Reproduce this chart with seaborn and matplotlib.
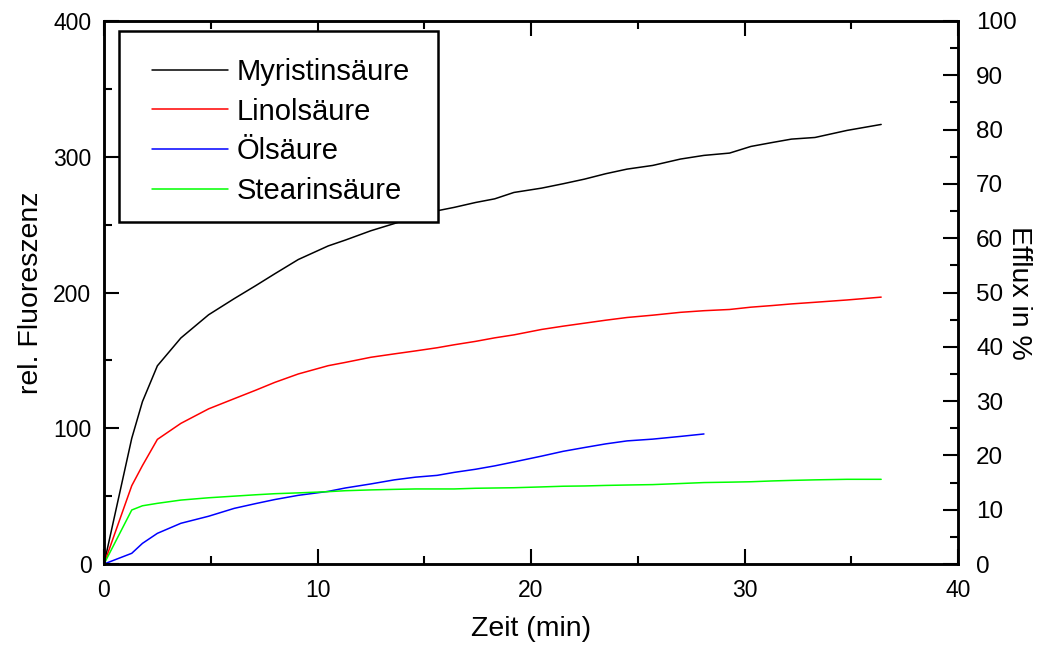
import matplotlib
matplotlib.use("Agg")
import matplotlib.pyplot as plt
from matplotlib.ticker import MultipleLocator
from matplotlib.patches import Rectangle
import pandas as pd
import seaborn as sns

sns.set_style("ticks")
plt.rcParams['font.family'] = ['Liberation Sans', 'DejaVu Sans']
plt.rcParams['text.color'] = 'black'
plt.rcParams['axes.labelcolor'] = 'black'
plt.rcParams['xtick.color'] = 'black'
plt.rcParams['ytick.color'] = 'black'
plt.rcParams['axes.edgecolor'] = 'black'

# Sampling times (min)
zeit = [0, 1.3, 1.8, 2.5, 3.6, 4.9, 6.1, 7.1, 8.0, 9.1, 10.5, 11.3, 12.5, 13.6,
        14.6, 15.6, 16.4, 17.4, 18.3, 19.2, 20.5, 21.5, 22.5, 23.5, 24.5, 25.7,
        27.0, 28.1, 29.3, 30.3, 31.3, 32.2, 33.3, 34.8, 36.4]

# Relative fluorescence per fatty acid
myristinsaeure = [0, 92.6, 119.6, 146, 166.5, 183.6, 195.5, 205, 213.8, 224.3,
                  234.3, 238.6, 245.5, 250.8, 256, 260.2, 262.7, 266.3, 269,
                  273.7, 276.9, 280.1, 283.5, 287.5, 290.9, 293.6, 298.3, 301,
                  302.7, 307.6, 310.5, 313, 314.2, 319.4, 323.8]
linolsaeure = [0, 57.7, 72.5, 91.8, 103.6, 114.3, 121.8, 128, 133.8, 140, 146.1,
               148.5, 152.3, 154.8, 157, 159.3, 161.5, 164, 166.6, 168.8, 172.8,
               175.2, 177.4, 179.6, 181.6, 183.3, 185.4, 186.6, 187.5, 189.2,
               190.4, 191.6, 192.8, 194.5, 196.6]
oelsaeure = [0, 7.9, 15.2, 22.6, 30, 35.2, 41, 44.5, 47.5, 50.6, 53.5, 56, 59,
             62, 64, 65.3, 67.5, 69.8, 72.3, 75.2, 79.5, 83, 85.8, 88.5, 90.7,
             92, 94, 95.8]
stearinsaeure = [0, 39.8, 42.9, 44.7, 47.1, 48.8, 50, 51, 51.8, 52.4, 53.3, 54,
                 54.6, 55, 55.3, 55.3, 55.3, 55.8, 56, 56.2, 56.8, 57.3, 57.5,
                 57.9, 58.2, 58.5, 59.3, 60, 60.3, 60.6, 61.2, 61.6, 62, 62.4,
                 62.4]

namen = ["Myristinsäure", "Linolsäure", "Ölsäure", "Stearinsäure"]
farben = ["#000000", "#FF0000", "#0000FF", "#00FF00"]
reihen = [myristinsaeure, linolsaeure, oelsaeure, stearinsaeure]

frames = []
for name, werte in zip(namen, reihen):
    frames.append(pd.DataFrame({"Zeit": zeit[:len(werte)],
                                "Fluoreszenz": werte,
                                "Säure": name}))
df = pd.concat(frames, ignore_index=True)

fig = plt.figure(figsize=(10.41, 6.46), dpi=100)
ax = fig.add_axes([0.0999, 0.1269, 0.8204, 0.8406])

sns.lineplot(data=df, x="Zeit", y="Fluoreszenz", hue="Säure",
             hue_order=namen, palette=dict(zip(namen, farben)),
             estimator=None, sort=False, linewidth=1.1, ax=ax)

ax.set_xlim(0, 40)
ax.set_ylim(0, 400)
ax.xaxis.set_major_locator(MultipleLocator(10))
ax.xaxis.set_minor_locator(MultipleLocator(5))
ax.yaxis.set_major_locator(MultipleLocator(100))
ax.yaxis.set_minor_locator(MultipleLocator(50))
ax.tick_params(axis='both', which='major', direction='in', length=11,
               width=1.5, labelsize=16.5, top=True, right=False)
ax.tick_params(axis='both', which='minor', direction='in', length=6,
               width=1.5, top=True, right=False)
ax.tick_params(axis='x', which='major', pad=11)
ax.tick_params(axis='y', which='major', pad=9)
ax.set_xlabel("Zeit (min)", fontsize=20.5, labelpad=10)
ax.set_ylabel("rel. Fluoreszenz", fontsize=20.5, labelpad=7)
for s in ax.spines.values():
    s.set_linewidth(1.8)

ax2 = ax.twinx()
ax2.set_ylim(0, 100)
ax2.yaxis.set_major_locator(MultipleLocator(10))
ax2.yaxis.set_minor_locator(MultipleLocator(5))
ax2.tick_params(axis='y', which='major', direction='in', length=11,
                width=1.5, labelsize=17.5, pad=13)
ax2.tick_params(axis='y', which='minor', direction='in', length=6, width=1.5)
ax2.set_ylabel("Efflux in %", fontsize=20.5, rotation=270, labelpad=11)
for s in ax2.spines.values():
    s.set_linewidth(1.8)

handles, labels = ax.get_legend_handles_labels()
if ax.legend_:
    ax.legend_.remove()

# Legend frame
ax2.add_patch(Rectangle((0.0176, 0.630), 0.3735, 0.3516,
                        transform=ax2.transAxes, facecolor="white",
                        edgecolor="black", linewidth=1.8, zorder=5))
leg = ax2.legend(handles, labels, loc="upper left",
                 bbox_to_anchor=(0.0562, 0.932), borderaxespad=0,
                 borderpad=0, fontsize=21, handlelength=2.6,
                 handletextpad=0.3, labelspacing=0.4, frameon=False)
leg.set_zorder(6)
for line in leg.get_lines():
    line.set_linewidth(1.1)

fig.savefig("out.png", dpi=100)
